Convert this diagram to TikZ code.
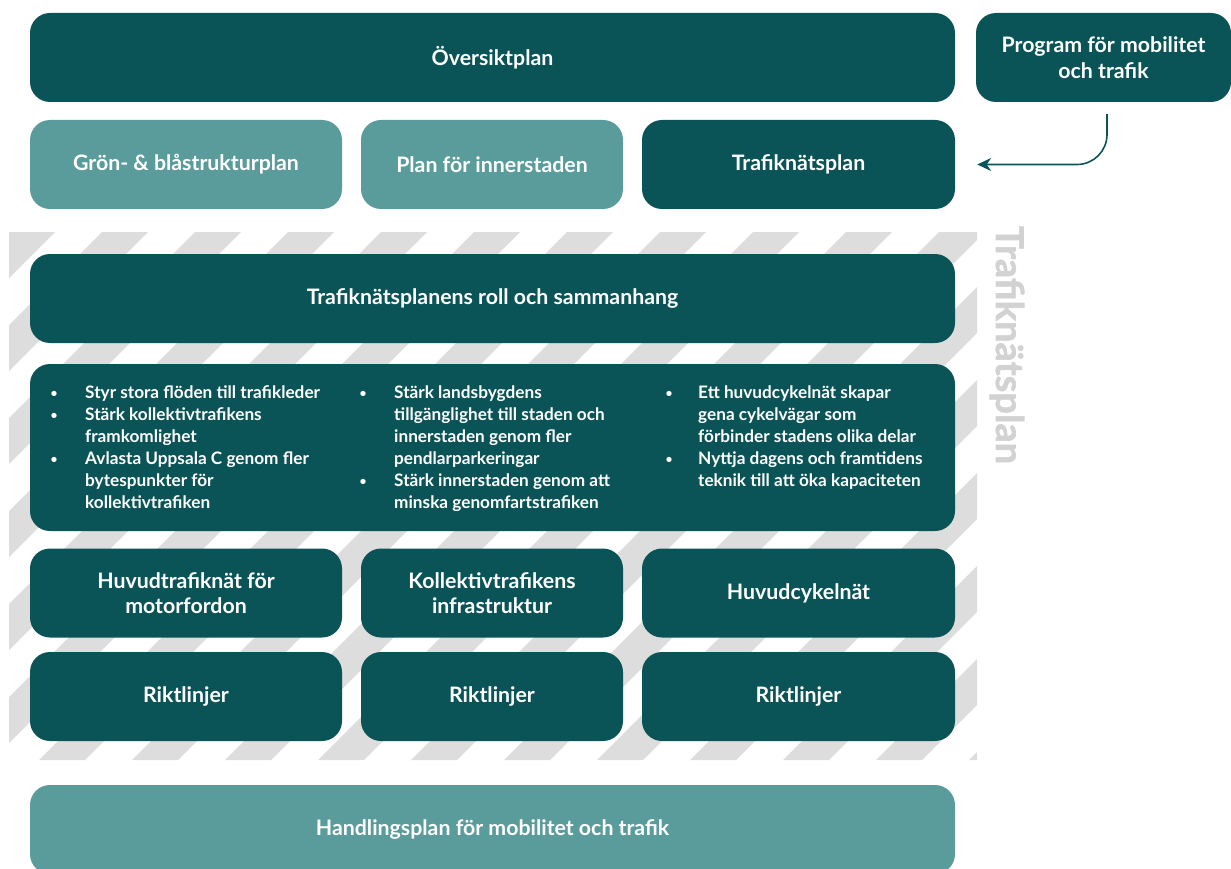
\documentclass[tikz,border=0pt]{standalone}
\usepackage{fontspec}
\setmainfont{Lato}
\newfontfamily\heavyfont{Lato}[BoldFeatures={FakeBold=1.5}]
\usetikzlibrary{arrows.meta}
\definecolor{dteal}{HTML}{0A5458}
\definecolor{lteal}{HTML}{5A9C9C}
\definecolor{hatchgray}{HTML}{DDDDDD}
\definecolor{vtext}{HTML}{D2D2D2}
\newcommand\bul{\makebox[0pt]{\raisebox{0.5pt}{\fontsize{12}{12}\selectfont\textbullet}}}
\begin{document}
\begin{tikzpicture}[x=1pt,y=-1pt,
  box/.style={fill=dteal, rounded corners=20pt, text=white, align=center, inner sep=0pt,
    font=\bfseries\fontsize{21.3}{25.5}\selectfont},
  lbox/.style={box, fill=lteal},
  wide/.style={minimum width=925pt, minimum height=89pt},
  third/.style={minimum width=#1, minimum height=89pt},
  bullets/.style={anchor=base west, inner sep=0pt, text=white, font=\bfseries\fontsize{17.2}{22}\selectfont},
  link/.style={draw=dteal, line width=1.6pt, -{Stealth[length=14pt,width=13pt]}, rounded corners=30pt}]
\useasboundingbox (0,0) rectangle (1231,869);
\clip (0,0) rectangle (1231,869);
% hatched background
\begin{scope}
\clip (9,232) rectangle (977,760);
\foreach \k in {-1,...,16}{
  \pgfmathsetmacro\c{241+93*\k}
  \fill[hatchgray] (\c-232,232) -- (\c+46-232,232) -- (\c+46-760,760) -- (\c-760,760) -- cycle;
}
\end{scope}
% row 1
\node[box, wide] (ovp) at (492.5,57.5) {Översiktplan};
\node[box, third=255pt] (prog) at (1103.5,57.5) {Program för mobilitet\\och trafik};
% row 2
\node[lbox, third=312pt] (gron) at (186,164.5) {Grön- \& blåstrukturplan};
\node[lbox, third=262pt] (inner) at (492,164.5) {Plan för innerstaden};
\node[box, third=313pt] (tnp) at (798.5,164.5) {Trafiknätsplan};
% vertical label
\node[rotate=-90, anchor=base, inner sep=0pt, text=vtext, font=\heavyfont\bfseries\fontsize{38}{44}\selectfont] (vt) at (996,345) {Trafiknätsplan};
% inner rows
\node[box, wide] (roll) at (492.5,298.5) {Trafiknätsplanens roll och sammanhang};
\node[box, minimum width=925pt, minimum height=167pt] (goals) at (492.5,447.5) {};
\node[bullets] (c1) at (54,398) {\begin{tabular}[t]{@{}p{31pt}@{}l@{}}
\bul & Styr stora flöden till trafikleder\\
\bul & Stärk kollektivtrafikens\\
 & framkomlighet\\
\bul & Avlasta Uppsala C genom fler\\
 & bytespunkter för\\
 & kollektivtrafiken
\end{tabular}};
\node[bullets] (c2) at (363,398) {\begin{tabular}[t]{@{}p{31pt}@{}l@{}}
\bul & Stärk landsbygdens\\
 & tillgänglighet till staden och\\
 & innerstaden genom fler\\
 & pendlarparkeringar\\
\bul & Stärk innerstaden genom att\\
 & minska genomfartstrafiken
\end{tabular}};
\node[bullets] (c3) at (669,398) {\begin{tabular}[t]{@{}p{29pt}@{}l@{}}
\bul & Ett huvudcykelnät skapar\\
 & gena cykelvägar som\\
 & förbinder stadens olika delar\\
\bul & Nyttja dagens och framtidens\\
 & teknik till att öka kapaciteten
\end{tabular}};
\node[box, third=312pt] (motor) at (186,593) {Huvudtrafiknät för\\motorfordon};
\node[box, third=262pt] (koll) at (492,593) {Kollektivtrafikens\\infrastruktur};
\node[box, third=313pt] (cykel) at (798.5,593) {Huvudcykelnät};
\node[box, third=312pt] (r1) at (186,696.5) {Riktlinjer};
\node[box, third=262pt] (r2) at (492,696.5) {Riktlinjer};
\node[box, third=313pt] (r3) at (798.5,696.5) {Riktlinjer};
% bottom
\node[lbox, wide] (handl) at (492.5,829.5) {Handlingsplan för mobilitet och trafik};
% connector
\draw[link] ([xshift=3.5pt,yshift=-12pt]prog.south) |- ([xshift=22pt]tnp.east);
\end{tikzpicture}
\end{document}
